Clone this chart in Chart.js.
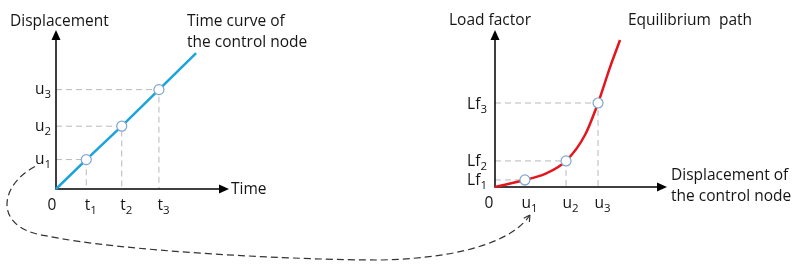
<!DOCTYPE html>
<html>
<head>
<meta charset="utf-8">
<script src="https://cdn.jsdelivr.net/npm/chart.js@4/dist/chart.umd.min.js"></script>
<style>
  html, body { margin: 0; padding: 0; background: #fff; }
  #wrap { position: relative; width: 801px; height: 268px; overflow: hidden; }
  #leftBox { position: absolute; left: 0; top: 0; width: 330px; height: 268px; }
  #rightBox { position: absolute; left: 400px; top: 0; width: 401px; height: 268px; }
  #link { position: absolute; left: 0; top: 0; pointer-events: none; }
</style>
</head>
<body>
<div id="wrap">
  <div id="leftBox"><canvas id="timeChart"></canvas></div>
  <div id="rightBox"><canvas id="pathChart"></canvas></div>
  <canvas id="link" width="801" height="268"></canvas>
</div>
<script>
// time curve of the control node (left)
const timeValues = [0, 1.75, 3.8, 5.95, 8.1];
const dispValues = [0, 1.85, 3.95, 6.25, 8.55];
const timeMarked = [1, 2, 3];
const timeTickLabels = ['t1', 't2', 't3'];
const dispTickLabels = ['u1', 'u2', 'u3'];

// equilibrium path (right)
const pathDisp = [0, 1.74, 2.91, 4.13, 5.23, 5.99, 6.69, 7.27];
const pathLoad = [0, 0.45, 0.83, 1.66, 3.31, 5.35, 7.64, 9.36];
const pathMarked = [1, 3, 5];
const pathXTickLabels = ['u1', 'u2', 'u3'];
const pathYTickLabels = ['Lf1', 'Lf2', 'Lf3'];

const MAIN_FONT = "15.5px 'Open Sans', sans-serif";
const SUB_FONT = "11.5px 'Open Sans', sans-serif";
const TEXT_COLOR = '#151515';

// texte avec indice (u1 -> u + petit 1)
function drawSub(ctx, label, x, y, align) {
    const m = label.match(/^(\D*)(\d*)$/);
    const base = m[1] || label, sub = m[1] ? m[2] : '';
    ctx.font = MAIN_FONT;
    const wb = ctx.measureText(base).width;
    ctx.font = SUB_FONT;
    const ws = sub ? ctx.measureText(sub).width : 0;
    const total = wb + ws;
    const x0 = align === 'right' ? x - total : align === 'center' ? x - total / 2 : x;
    ctx.textAlign = 'left';
    ctx.textBaseline = 'alphabetic';
    ctx.font = MAIN_FONT;
    ctx.fillText(base, x0, y);
    if (sub) {
        ctx.font = SUB_FONT;
        ctx.fillText(sub, x0 + wb, y + 4);
    }
}

const diagramPlugin = {
    id: 'diagram',
    beforeDatasetsDraw(chart, args, opts) {
        const { ctx, chartArea: a, scales: { x, y } } = chart;
        const pts = chart.data.datasets[0].data;
        ctx.save();
        // lignes de rappel pointillées
        ctx.strokeStyle = '#b8b8b8';
        ctx.lineWidth = 1;
        ctx.setLineDash([6, 4]);
        opts.marked.forEach(i => {
            const px = x.getPixelForValue(pts[i].x), py = y.getPixelForValue(pts[i].y);
            ctx.beginPath();
            ctx.moveTo(a.left, py);
            ctx.lineTo(px, py);
            ctx.lineTo(px, a.bottom);
            ctx.stroke();
        });
        ctx.setLineDash([]);
        // axes + flèches
        ctx.strokeStyle = '#000';
        ctx.fillStyle = '#000';
        ctx.lineWidth = 1.5;
        ctx.beginPath();
        ctx.moveTo(a.left, a.top + 8);
        ctx.lineTo(a.left, a.bottom);
        ctx.lineTo(a.right - 8, a.bottom);
        ctx.stroke();
        ctx.beginPath();
        ctx.moveTo(a.left, a.top);
        ctx.lineTo(a.left - 4.5, a.top + 10);
        ctx.lineTo(a.left + 4.5, a.top + 10);
        ctx.closePath();
        ctx.fill();
        ctx.beginPath();
        ctx.moveTo(a.right, a.bottom);
        ctx.lineTo(a.right - 10, a.bottom - 4.5);
        ctx.lineTo(a.right - 10, a.bottom + 4.5);
        ctx.closePath();
        ctx.fill();
        ctx.restore();
    },
    afterDraw(chart, args, opts) {
        const { ctx, chartArea: a, scales: { x, y } } = chart;
        const pts = chart.data.datasets[0].data;
        ctx.save();
        ctx.fillStyle = TEXT_COLOR;
        // graduations
        drawSub(ctx, '0', a.left - opts.zeroGap, opts.xTickBase, 'center');
        opts.marked.forEach((i, k) => {
            const px = x.getPixelForValue(pts[i].x), py = y.getPixelForValue(pts[i].y);
            drawSub(ctx, opts.xTicks[k], px + 4.5, opts.xTickBase, 'center');
            drawSub(ctx, opts.yTicks[k], a.left - opts.yGap, py + opts.yBaseOffset, 'right');
        });
        // titres
        ctx.font = MAIN_FONT;
        ctx.textAlign = 'left';
        opts.titles.forEach(t => {
            const tx = t.from === 'right' ? a.right + t.dx : a.left + t.dx;
            ctx.fillText(t.text, tx, t.y);
        });
        ctx.restore();
    }
};

function baseOptions(pad, diagram) {
    return {
        responsive: true,
        maintainAspectRatio: false,
        animation: false,
        events: [],
        layout: { padding: pad },
        scales: {
            x: { type: 'linear', min: 0, max: 10, display: false },
            y: { type: 'linear', min: 0, max: 10, display: false }
        },
        plugins: { legend: { display: false }, tooltip: { enabled: false }, diagram: diagram }
    };
}

const timeChart = new Chart(document.getElementById('timeChart'), {
    type: 'line',
    data: {
        datasets: [{
            data: timeValues.map((t, i) => ({ x: t, y: dispValues[i] })),
            borderColor: '#1ba3dc',
            borderWidth: 2.5,
            tension: 0,
            pointRadius: c => timeMarked.includes(c.dataIndex) ? 5 : 0,
            pointBackgroundColor: '#fff',
            pointBorderColor: '#7fa5cf',
            pointBorderWidth: 1.2,
            clip: false
        }]
    },
    options: baseOptions({ left: 56, right: 101, top: 30, bottom: 79 }, {
        marked: timeMarked,
        xTicks: timeTickLabels,
        yTicks: dispTickLabels,
        xTickBase: 210,
        zeroGap: 4,
        yGap: 5,
        yBaseOffset: 4.5,
        titles: [
            { text: 'Displacement', dx: -46, y: 26 },
            { text: 'Time curve of', dx: 131, y: 26 },
            { text: 'the control node', dx: 131, y: 47 },
            { text: 'Time', from: 'right', dx: 2, y: 194 }
        ]
    }),
    plugins: [diagramPlugin]
});

const pathChart = new Chart(document.getElementById('pathChart'), {
    type: 'line',
    data: {
        datasets: [{
            data: pathDisp.map((u, i) => ({ x: u, y: pathLoad[i] })),
            borderColor: '#e3161e',
            borderWidth: 2.5,
            cubicInterpolationMode: 'monotone',
            pointRadius: c => pathMarked.includes(c.dataIndex) ? 5 : 0,
            pointBackgroundColor: '#fff',
            pointBorderColor: '#7fa5cf',
            pointBorderWidth: 1.2,
            clip: false
        }]
    },
    options: baseOptions({ left: 95, right: 134, top: 30, bottom: 81 }, {
        marked: pathMarked,
        xTicks: pathXTickLabels,
        yTicks: pathYTickLabels,
        xTickBase: 208,
        zeroGap: 6,
        yGap: 8,
        yBaseOffset: 5.5,
        titles: [
            { text: 'Load factor', dx: -46, y: 25 },
            { text: 'Equilibrium  path', dx: 133, y: 25 },
            { text: 'Displacement of', from: 'right', dx: 4, y: 180 },
            { text: 'the control node', from: 'right', dx: 4, y: 201 }
        ]
    }),
    plugins: [diagramPlugin]
});

// flèche courbe pointillée entre u1 (gauche) et u1 (droite)
function drawLink() {
    const c = document.getElementById('link').getContext('2d');
    const L = timeChart, R = pathChart;
    const rightOffset = document.getElementById('rightBox').offsetLeft;
    const S = {
        x: L.chartArea.left - 21,
        y: L.scales.y.getPixelForValue(dispValues[timeMarked[0]]) + 7
    };
    const E = {
        x: rightOffset + R.scales.x.getPixelForValue(pathDisp[pathMarked[0]]) + 5,
        y: R.chartArea.bottom + 28
    };
    c.save();
    c.strokeStyle = '#333';
    c.lineWidth = 1.2;
    c.setLineDash([7, 4]);
    c.beginPath();
    c.moveTo(S.x, S.y);
    c.bezierCurveTo(S.x - 35, S.y + 18, S.x - 43, S.y + 61, S.x + 10, S.y + 69);
    c.bezierCurveTo(S.x + 85, S.y + 85, E.x - 230, E.y + 45, E.x - 150, E.y + 45);
    c.bezierCurveTo(E.x - 60, E.y + 43, E.x - 15, E.y + 23, E.x, E.y);
    c.stroke();
    c.setLineDash([]);
    const ang = Math.atan2(-23, 15);
    c.beginPath();
    [0.5, -0.5].forEach(d => {
        c.moveTo(E.x, E.y);
        c.lineTo(E.x - 7 * Math.cos(ang + d), E.y - 7 * Math.sin(ang + d));
    });
    c.stroke();
    c.restore();
}
drawLink();
</script>
</body>
</html>
